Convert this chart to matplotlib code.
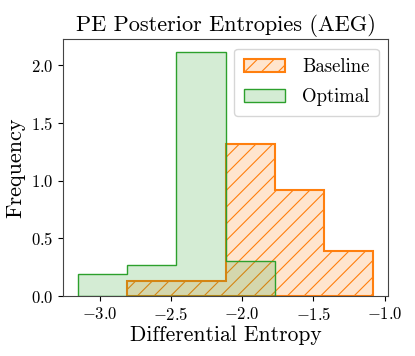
import matplotlib
matplotlib.use("Agg")
import matplotlib.pyplot as plt
import numpy as np

plt.rcParams['font.family'] = 'serif'
plt.rcParams['font.serif'] = ['cmr10']
plt.rcParams['mathtext.fontset'] = 'cm'
plt.rcParams['axes.formatter.use_mathtext'] = True
plt.rcParams['axes.unicode_minus'] = True
plt.rcParams['hatch.linewidth'] = 0.8

# Data (histogram densities)
baseline_edges = [-2.806, -2.461, -2.115, -1.770, -1.425, -1.080]
baseline_freq = [0.127, 0.127, 1.314, 0.919, 0.392]
optimal_edges = [-3.150, -2.806, -2.461, -2.115, -1.770]
optimal_freq = [0.193, 0.270, 2.117, 0.305]

fig = plt.figure(figsize=(4.15, 3.56), dpi=100)
ax = fig.add_axes([0.153, 0.1685, 0.782, 0.721])

def centers(e):
    e = np.asarray(e)
    return (e[:-1] + e[1:]) / 2

ax.hist(centers(baseline_edges), bins=baseline_edges, weights=baseline_freq,
        histtype='stepfilled', facecolor=(1.0, 0.498, 0.055, 0.2),
        edgecolor='#ff7f0e', hatch='//', linewidth=1.5, label='Baseline')
ax.hist(centers(optimal_edges), bins=optimal_edges, weights=optimal_freq,
        histtype='stepfilled', facecolor=(0.173, 0.627, 0.173, 0.2),
        edgecolor='#2ca02c', linewidth=1.0, label='Optimal')

ax.set_title('PE Posterior Entropies (AEG)', fontsize=16)
ax.set_xlabel('Differential Entropy', fontsize=15.5, labelpad=2)
ax.set_ylabel('Frequency', fontsize=16)
ax.tick_params(labelsize=12)
ax.set_xticks([-3.0, -2.5, -2.0, -1.5, -1.0])
ax.set_yticks([0.0, 0.5, 1.0, 1.5, 2.0])
for s in ax.spines.values():
    s.set_color('#444444')
ax.legend(fontsize=13.5, loc='upper right', handlelength=2.2, borderpad=0.5,
          labelspacing=0.65, handletextpad=0.9)

fig.savefig('out.png', dpi=100)
